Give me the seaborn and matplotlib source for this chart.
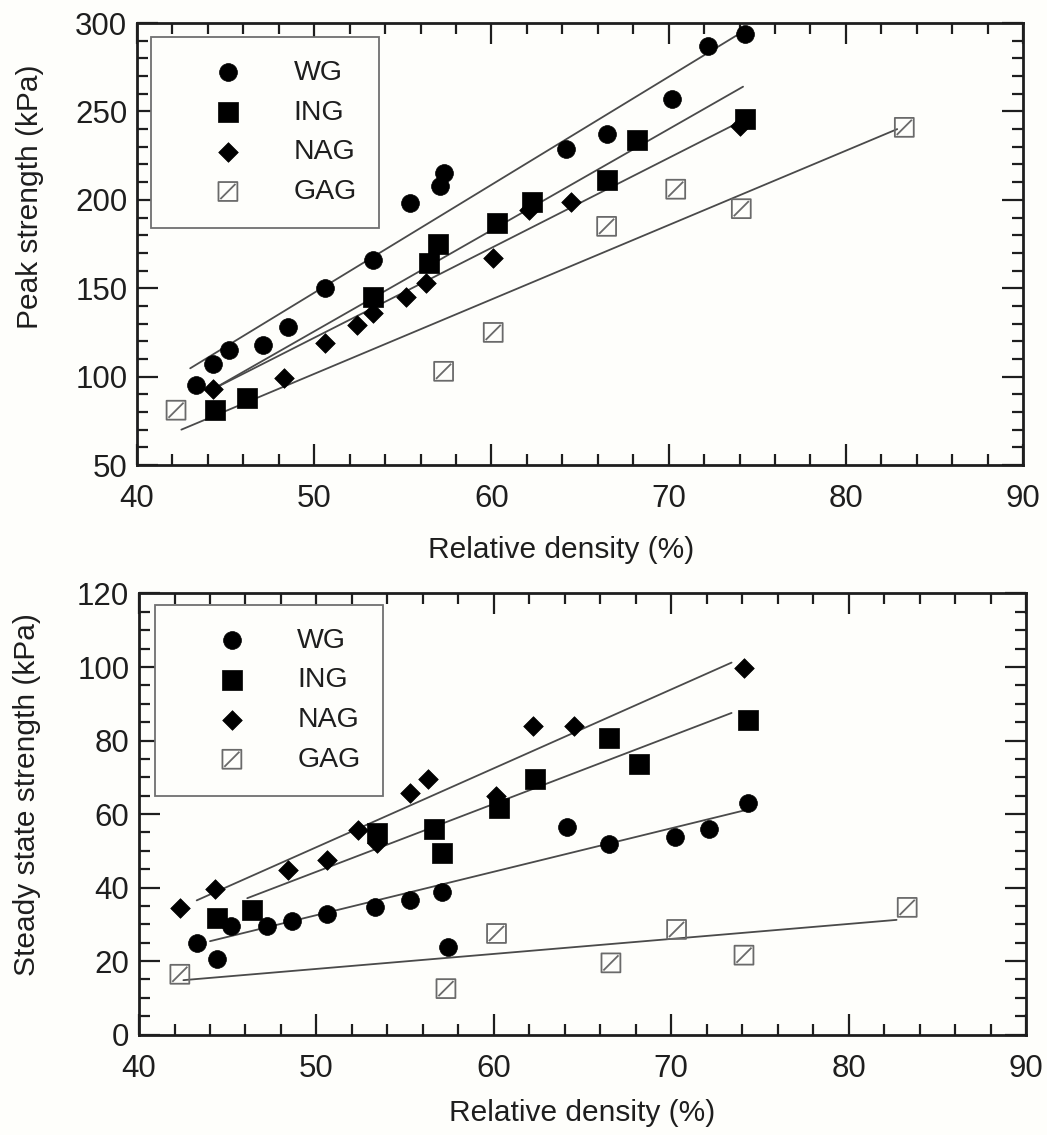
import numpy as np
import matplotlib
matplotlib.use("Agg")
import matplotlib.pyplot as plt
from matplotlib.path import Path
from matplotlib.ticker import MultipleLocator
import seaborn as sns

# ---- Peak strength vs relative density ----
wg_rd_peak = [43.3, 44.3, 45.2, 47.1, 48.5, 50.6, 53.3, 55.4, 57.1, 57.3, 64.2, 66.5, 70.2, 72.2, 74.3]
wg_peak = [95, 107, 115, 118, 128, 150, 166, 198, 208, 215, 229, 237, 257, 287, 294]
ing_rd_peak = [44.4, 46.2, 53.3, 56.5, 57.0, 60.3, 62.3, 66.5, 68.2, 74.3]
ing_peak = [81, 88, 145, 164, 175, 187, 199, 211, 234, 246]
nag_rd_peak = [44.3, 48.3, 50.6, 52.4, 53.3, 55.2, 56.3, 60.1, 62.1, 64.5, 74.0]
nag_peak = [93, 99, 119, 129, 136, 145, 153, 167, 194, 199, 242]
gag_rd_peak = [42.2, 57.3, 60.1, 66.5, 70.4, 74.1, 83.3]
gag_peak = [81, 103, 125, 185, 206, 195, 241]

# trend lines (end points)
wg_fit_peak_x, wg_fit_peak_y = [43.0, 74.0], [104.7, 294]
ing_fit_peak_x, ing_fit_peak_y = [44.3, 74.2], [93, 264]
nag_fit_peak_x, nag_fit_peak_y = [44.3, 73.9], [93, 243.5]
gag_fit_peak_x, gag_fit_peak_y = [42.5, 82.9], [70, 240]

# ---- Steady state strength vs relative density ----
wg_rd_ss = [43.25, 44.4, 45.2, 47.2, 48.6, 50.6, 53.3, 55.3, 57.1, 57.4, 64.1, 66.5, 70.2, 72.1, 74.3]
wg_ss = [25, 20.5, 29.6, 29.6, 31, 32.7, 34.8, 36.6, 38.7, 23.9, 56.6, 51.8, 53.7, 56, 63]
ing_rd_ss = [44.4, 46.35, 53.4, 56.6, 57.1, 60.3, 62.3, 66.5, 68.2, 74.3]
ing_ss = [31.6, 33.9, 54.8, 55.9, 49.5, 61.6, 69.5, 80.7, 73.6, 85.7]
nag_rd_ss = [42.3, 44.3, 48.4, 50.6, 52.35, 53.4, 55.3, 56.3, 60.1, 62.2, 64.5, 74.1]
nag_ss = [34.5, 39.5, 44.8, 47.5, 55.7, 52.1, 65.7, 69.6, 65.0, 83.9, 83.9, 99.8]
gag_rd_ss = [42.3, 57.3, 60.15, 66.6, 70.3, 74.1, 83.3]
gag_ss = [16.4, 12.5, 27.5, 19.5, 28.6, 21.6, 34.6]

wg_fit_ss_x, wg_fit_ss_y = [44.0, 74.3], [25.4, 61.2]
ing_fit_ss_x, ing_fit_ss_y = [46.1, 73.4], [37.1, 87.5]
nag_fit_ss_x, nag_fit_ss_y = [43.25, 73.4], [36.5, 101.2]
gag_fit_ss_x, gag_fit_ss_y = [42.5, 82.7], [14.8, 31.2]

labels = ["WG", "ING", "NAG", "GAG"]

sns.set_theme(style="ticks")
plt.rcParams["font.family"] = ["Liberation Sans", "DejaVu Sans"]

BG = "#fefefb"
INK = "#1e1e1e"
LINE_C = "#4a4a4a"
GAG_C = "#6a6a6a"

# open square with a diagonal slash
gag_marker = Path(
    [(-1, -1), (1, -1), (1, 1), (-1, 1), (-1, -1), (-0.8, -0.8), (0.8, 0.8)],
    [Path.MOVETO, Path.LINETO, Path.LINETO, Path.LINETO, Path.CLOSEPOLY,
     Path.MOVETO, Path.LINETO],
)

fig = plt.figure(figsize=(10.47, 11.35), dpi=100, facecolor=BG)
ax1 = fig.add_axes([0.1309, 0.5903, 0.8462, 0.3894])
ax2 = fig.add_axes([0.1328, 0.0885, 0.8472, 0.3886])


def draw_panel(ax, series, fits, ylim, ymaj, ymin, ylabel, leg_anchor,
               xlab_pos, ylab_pos):
    ax.set_facecolor(BG)
    (wx, wy), (ix, iy), (nx, ny), (gx, gy) = series
    for fx, fy in fits:
        sns.lineplot(x=fx, y=fy, ax=ax, color=LINE_C, linewidth=1.3, zorder=1)
    sns.scatterplot(x=wx, y=wy, ax=ax, marker="o", s=165, color="black",
                    edgecolor="black", linewidth=0.5, label=labels[0], zorder=3)
    sns.scatterplot(x=ix, y=iy, ax=ax, marker="s", s=195, color="black",
                    edgecolor="black", linewidth=0.5, label=labels[1], zorder=3)
    sns.scatterplot(x=nx, y=ny, ax=ax, marker="D", s=100, color="black",
                    edgecolor="black", linewidth=0.5, label=labels[2], zorder=3)
    ax.scatter(gx, gy, marker=gag_marker, s=185, facecolors="none",
               edgecolors=GAG_C, linewidths=1.3, label=labels[3], zorder=3)

    ax.set_xlim(40, 90)
    ax.set_ylim(*ylim)
    ax.xaxis.set_major_locator(MultipleLocator(10))
    ax.xaxis.set_minor_locator(MultipleLocator(2))
    ax.yaxis.set_major_locator(MultipleLocator(ymaj))
    ax.yaxis.set_minor_locator(MultipleLocator(ymin))
    ax.tick_params(which="both", direction="in", top=True, right=True,
                   width=1.6, color=INK, labelsize=22.5, labelcolor=INK)
    ax.tick_params(which="major", length=15)
    ax.tick_params(axis="x", which="major", pad=14)
    ax.tick_params(axis="y", which="major", pad=7)
    ax.tick_params(which="minor", length=8)
    for sp in ax.spines.values():
        sp.set_linewidth(2.0)
        sp.set_color(INK)
    ax.set_xlabel("Relative density (%)", fontsize=21.5, color=INK)
    ax.set_ylabel(ylabel, fontsize=21.5, color=INK)
    ax.xaxis.set_label_coords(*xlab_pos)
    ax.yaxis.set_label_coords(*ylab_pos)

    leg = ax.legend(loc="upper left", bbox_to_anchor=leg_anchor, borderaxespad=0,
                    fontsize=20.5, frameon=True, fancybox=False, framealpha=1,
                    facecolor=BG, edgecolor="#707070", borderpad=0.8,
                    handlelength=3.8, handletextpad=0.4, labelspacing=0.48,
                    scatterpoints=1)
    leg.get_frame().set_linewidth(1.3)
    for t in leg.get_texts():
        t.set_color(INK)


draw_panel(
    ax1,
    [(wg_rd_peak, wg_peak), (ing_rd_peak, ing_peak),
     (nag_rd_peak, nag_peak), (gag_rd_peak, gag_peak)],
    [(wg_fit_peak_x, wg_fit_peak_y), (ing_fit_peak_x, ing_fit_peak_y),
     (nag_fit_peak_x, nag_fit_peak_y), (gag_fit_peak_x, gag_fit_peak_y)],
    (50, 300), 50, 10, "Peak strength (kPa)", (0.0158, 0.968),
    (0.479, -0.160), (-0.105, 0.607),
)
draw_panel(
    ax2,
    [(wg_rd_ss, wg_ss), (ing_rd_ss, ing_ss),
     (nag_rd_ss, nag_ss), (gag_rd_ss, gag_ss)],
    [(wg_fit_ss_x, wg_fit_ss_y), (ing_fit_ss_x, ing_fit_ss_y),
     (nag_fit_ss_x, nag_fit_ss_y), (gag_fit_ss_x, gag_fit_ss_y)],
    (0, 120), 20, 5, "Steady state strength (kPa)", (0.018, 0.974),
    (0.499, -0.145), (-0.110, 0.545),
)

fig.savefig("out.png", dpi=100, facecolor=BG)
